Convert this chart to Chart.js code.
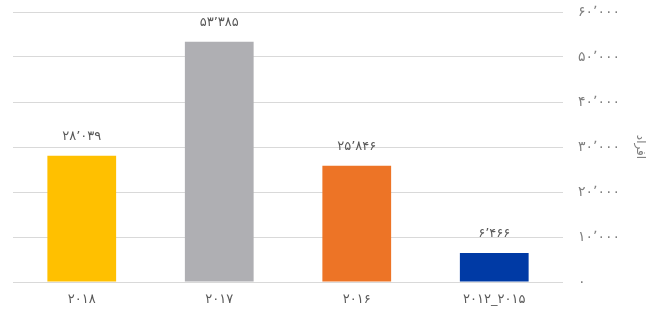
<!DOCTYPE html>
<html>
<head>
<meta charset="utf-8">
<script src="https://cdn.jsdelivr.net/npm/chart.js@4"></script>
<style>
  html, body { margin: 0; padding: 0; background: #fff; }
  #wrap { width: 664px; height: 311px; }
</style>
</head>
<body>
<div id="wrap"><canvas id="chart"></canvas></div>
<script>
var categories = ["۲۰۱۸", "۲۰۱۷", "۲۰۱۶", "۲۰۱۲_۲۰۱۵"];
var values = [28039, 53385, 25846, 6466];
var valueLabels = ["۲۸٬۰۳۹", "۵۳٬۳۸۵", "۲۵٬۸۴۶", "۶٬۴۶۶"];
var barColors = ["#ffc000", "#afafb3", "#ed7426", "#003aa5"];
var tickValues = [0, 10000, 20000, 30000, 40000, 50000, 60000];
var tickLabels = ["۰", "۱۰٬۰۰۰", "۲۰٬۰۰۰", "۳۰٬۰۰۰", "۴۰٬۰۰۰", "۵۰٬۰۰۰", "۶۰٬۰۰۰"];
var axisTitle = "افراد";

var fontFamily = "'DejaVu Sans', 'Noto Sans', sans-serif";

// labels above the bars
var barLabels = {
	id: "barLabels",
	afterDatasetsDraw: function(chart){
		var ctx = chart.ctx;
		var meta = chart.getDatasetMeta(0);
		ctx.save();
		ctx.fillStyle = "#595959";
		ctx.font = "13px " + fontFamily;
		ctx.textAlign = "center";
		ctx.textBaseline = "middle";
		for(var i=0;i<meta.data.length;i++){
			var bar = meta.data[i];
			ctx.fillText(valueLabels[i], bar.x, bar.y - 19);
		}
		ctx.restore();
	}
};

var chart = new Chart(document.getElementById("chart").getContext("2d"), {
	type: "bar",
	data: {
		labels: categories,
		datasets: [{
			data: values,
			backgroundColor: barColors,
			barPercentage: 0.5,
			categoryPercentage: 1
		}]
	},
	options: {
		responsive: true,
		maintainAspectRatio: false,
		animation: false,
		layout: {
			padding: { left: 13, top: 12, right: 0, bottom: 0 }
		},
		plugins: {
			legend: { display: false },
			tooltip: { enabled: false }
		},
		scales: {
			x: {
				grid: { display: false, drawTicks: false },
				border: { display: false },
				ticks: {
					color: "#595959",
					font: { family: fontFamily, size: 13 },
					padding: 10
				},
				afterFit: function(axis){
					axis.height = 29;
					axis.paddingLeft = 0;
					axis.paddingRight = 0;
				}
			},
			y: {
				position: "right",
				min: 0,
				max: 60000,
				afterBuildTicks: function(axis){
					axis.ticks = tickValues.map(function(v){ return { value: v }; });
				},
				grid: { color: "#d9d9d9", drawTicks: false },
				border: { display: false },
				ticks: {
					color: "#7f7f7f",
					font: { family: fontFamily, size: 14 },
					padding: 15,
					callback: function(value){
						var idx = tickValues.indexOf(value);
						return idx >= 0 ? tickLabels[idx] : "";
					}
				},
				title: {
					display: true,
					text: axisTitle,
					color: "#7f7f7f",
					font: { family: fontFamily, size: 12 },
					padding: { top: 17, bottom: 0 }
				},
				afterFit: function(axis){
					axis.width = 101;
					axis.paddingTop = 0;
					axis.paddingBottom = 0;
				}
			}
		}
	},
	plugins: [barLabels]
});
</script>
</body>
</html>
